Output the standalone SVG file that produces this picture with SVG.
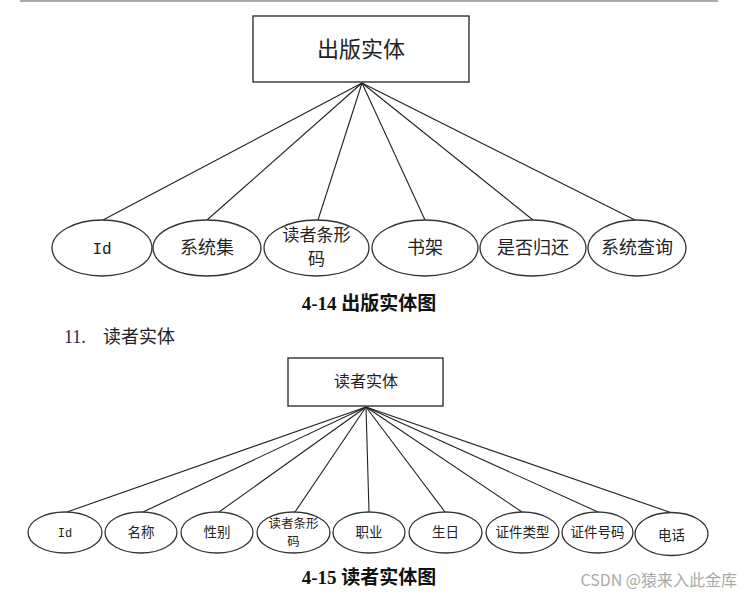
<svg xmlns="http://www.w3.org/2000/svg" width="752" height="600" viewBox="0 0 752 600">
<style>
.bg{fill:#ffffff}
.box{fill:#ffffff;stroke:#222;stroke-width:1.3}
.ell{fill:#ffffff;stroke:#333;stroke-width:1.3}
.ln{stroke:#222;stroke-width:1.1;fill:none}
.t{font-family:"Noto Sans CJK SC","Liberation Sans",sans-serif;fill:#222;text-anchor:middle}
.t1{font-size:18px}
.t1b{font-size:17px}
.t2{font-size:13.5px}
.t2b{font-size:12.5px}
.mono{font-family:"Liberation Mono","Noto Sans CJK SC",monospace}
.cap{font-family:"Liberation Serif","Noto Sans CJK SC",serif;font-weight:bold;font-size:19px;fill:#111;text-anchor:middle}
</style>
<rect class="bg" x="0" y="0" width="752" height="600"/>
<line x1="20" y1="1" x2="718" y2="1" stroke="#aaaaaa" stroke-width="2"/>

<g id="connectors1">
<line class="ln" x1="362" y1="83" x2="103" y2="220"/>
<line class="ln" x1="362" y1="83" x2="207" y2="220"/>
<line class="ln" x1="362" y1="83" x2="318" y2="220"/>
<line class="ln" x1="362" y1="83" x2="425" y2="220"/>
<line class="ln" x1="362" y1="83" x2="533" y2="220"/>
<line class="ln" x1="362" y1="83" x2="635" y2="220"/>
</g>

<g id="publish-entity">
<rect class="box" x="253" y="16" width="216" height="66"/>
<text class="t" x="361" y="57" font-size="22" fill="#333">出版实体</text>
</g>
<g id="p-id"><ellipse class="ell" cx="102" cy="248" rx="50" ry="28"/><text class="t mono" x="102" y="254" font-size="16">Id</text></g>
<g id="p-xtj"><ellipse class="ell" cx="207" cy="248" rx="54" ry="28"/><text class="t t1" x="207" y="254">系统集</text></g>
<g id="p-dztxm"><ellipse class="ell" cx="316.5" cy="248" rx="52.5" ry="28"/><text class="t t1b" x="316.5" y="241">读者条形</text><text class="t t1b" x="316.5" y="265">码</text></g>
<g id="p-sj"><ellipse class="ell" cx="425" cy="248" rx="53" ry="28"/><text class="t t1" x="425" y="254">书架</text></g>
<g id="p-sfgh"><ellipse class="ell" cx="533" cy="248" rx="53" ry="28"/><text class="t t1" x="533" y="254">是否归还</text></g>
<g id="p-xtcx"><ellipse class="ell" cx="637" cy="248" rx="49" ry="28"/><text class="t t1" x="637" y="254">系统查询</text></g>

<text class="cap" x="369" y="310">4-14 出版实体图</text>

<text x="64" y="343" font-family="Liberation Serif,'Noto Sans CJK SC',serif" font-size="18" fill="#1a2a50">11.</text>
<text x="103" y="343" font-family="'Noto Sans CJK SC',sans-serif" font-size="18" fill="#222">读者实体</text>

<g id="connectors2">
<line class="ln" x1="366" y1="407" x2="67" y2="512"/>
<line class="ln" x1="366" y1="407" x2="143" y2="512"/>
<line class="ln" x1="366" y1="407" x2="219" y2="512"/>
<line class="ln" x1="366" y1="407" x2="295" y2="512"/>
<line class="ln" x1="366" y1="407" x2="369" y2="512"/>
<line class="ln" x1="366" y1="407" x2="445" y2="512"/>
<line class="ln" x1="366" y1="407" x2="522" y2="512"/>
<line class="ln" x1="366" y1="407" x2="598" y2="512"/>
<line class="ln" x1="366" y1="407" x2="672" y2="513"/>
</g>

<g id="reader-entity">
<rect class="box" x="288" y="358" width="155" height="48"/>
<text class="t" x="366" y="387" font-size="16" fill="#444">读者实体</text>
</g>
<g id="r-id"><ellipse class="ell" cx="65" cy="532.5" rx="37" ry="20.5"/><text class="t mono" x="65" y="537" font-size="12">Id</text></g>
<g id="r-mc"><ellipse class="ell" cx="141" cy="532.5" rx="36" ry="20.5"/><text class="t t2" x="141" y="537">名称</text></g>
<g id="r-xb"><ellipse class="ell" cx="217" cy="532.5" rx="36" ry="20.5"/><text class="t t2" x="217" y="537">性别</text></g>
<g id="r-dztxm"><ellipse class="ell" cx="293.5" cy="532.5" rx="36.5" ry="20.5"/><text class="t t2b" x="293.5" y="528">读者条形</text><text class="t t2b" x="293.5" y="546">码</text></g>
<g id="r-zy"><ellipse class="ell" cx="369" cy="532.5" rx="36" ry="20.5"/><text class="t t2" x="369" y="537">职业</text></g>
<g id="r-sr"><ellipse class="ell" cx="445.5" cy="532.5" rx="36.5" ry="20.5"/><text class="t t2" x="445.5" y="537">生日</text></g>
<g id="r-zjlx"><ellipse class="ell" cx="522.5" cy="532.5" rx="36.5" ry="20.5"/><text class="t t2" x="522.5" y="537">证件类型</text></g>
<g id="r-zjhm"><ellipse class="ell" cx="597.5" cy="532.5" rx="35.5" ry="20.5"/><text class="t t2" x="597.5" y="537">证件号码</text></g>
<g id="r-dh"><ellipse class="ell" cx="671.5" cy="534" rx="36.5" ry="21.5"/><text class="t t2" x="671.5" y="540">电话</text></g>

<text class="cap" x="369" y="584">4-15 读者实体图</text>

<text x="737" y="586" text-anchor="end" font-family="'Noto Sans CJK SC','Liberation Sans',sans-serif" font-size="16" fill="#aaaaaa">CSDN @猿来入此金库</text>
</svg>
